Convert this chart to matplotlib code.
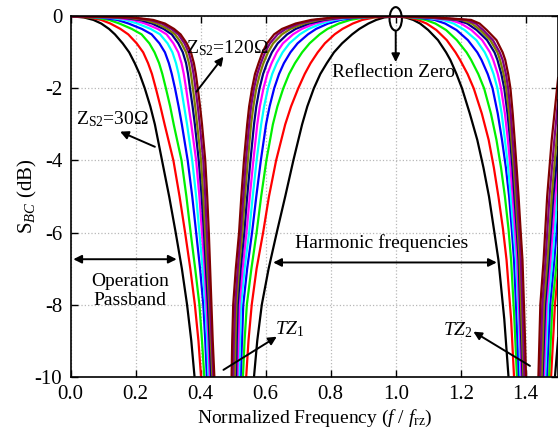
import matplotlib
matplotlib.use("Agg")
import matplotlib.pyplot as plt
from matplotlib.patches import Ellipse

plt.rcParams['font.family'] = 'Liberation Serif'
plt.rcParams['mathtext.fontset'] = 'custom'
plt.rcParams['mathtext.rm'] = 'Liberation Serif'
plt.rcParams['mathtext.it'] = 'Liberation Serif:italic'
plt.rcParams['mathtext.bf'] = 'Liberation Serif:bold'
plt.rcParams['axes.unicode_minus'] = False

# Z_S2 values (ohm) and colours, inner (black) to outer (maroon)
z_s2 = [30, 40, 50, 60, 70, 80, 90, 100, 110, 120]
colors = ['#000000', '#ff0000', '#00f000', '#0000ff', '#00ffff',
          '#ff00ff', '#000080', '#808000', '#800080', '#800000']

# Branch 1: falling edge from f=0 toward TZ1 (x read at common dB levels)
b1_levels = [0, -0.03, -0.1, -0.2, -0.35, -0.5, -0.75, -1.0, -1.3, -1.6,
             -2.0, -2.5, -3.0, -4, -5, -6, -7, -8, -9, -10]
b1_x = [
    [0, .040, .070, .094, .118, .136, .160, .180, .197, .212, .228, .245, .259, .281, .303, .323, .342, .358, .371, .381],
    [0, .055, .094, .122, .153, .177, .203, .223, .238, .250, .262, .276, .289, .316, .335, .352, .368, .382, .393, .401],
    [0, .070, .118, .150, .188, .218, .242, .258, .272, .282, .293, .306, .317, .341, .356, .369, .383, .396, .404, .411],
    [0, .090, .143, .178, .219, .249, .273, .290, .302, .311, .321, .332, .342, .360, .374, .386, .398, .408, .414, .419],
    [0, .110, .168, .205, .246, .275, .298, .313, .324, .332, .340, .349, .358, .374, .386, .396, .406, .414, .420, .424],
    [0, .130, .192, .229, .268, .295, .316, .331, .341, .348, .355, .363, .371, .386, .396, .404, .412, .418, .424, .428],
    [0, .150, .213, .250, .286, .311, .331, .345, .355, .361, .367, .375, .382, .394, .403, .410, .416, .422, .427, .432],
    [0, .165, .228, .265, .298, .321, .341, .355, .364, .370, .376, .383, .389, .401, .408, .414, .420, .426, .431, .436],
    [0, .180, .244, .280, .310, .331, .350, .363, .372, .378, .384, .391, .397, .408, .414, .419, .424, .429, .434, .439],
    [0, .190, .254, .290, .318, .338, .357, .370, .379, .385, .391, .398, .404, .414, .420, .425, .429, .433, .437, .442],
]

# Branch 2: rising edge from TZ1 to the reflection zero at f/frz = 1
b2_levels = [-10, -9, -8, -7, -6, -5, -4, -3, -2.5, -2, -1.6, -1.3, -1,
             -0.75, -0.5, -0.35, -0.2, -0.1, -0.03, 0]
b2_x = [
    [.564, .574, .588, .609, .634, .660, .685, .712, .728, .748, .768, .788, .810, .835, .866, .888, .916, .940, .965, 1.0],
    [.540, .547, .557, .572, .592, .610, .632, .660, .678, .700, .720, .738, .760, .782, .812, .836, .868, .897, .935, 1.0],
    [.530, .535, .542, .556, .572, .586, .602, .622, .636, .654, .672, .690, .712, .735, .766, .790, .825, .860, .905, 1.0],
    [.523, .527, .531, .543, .558, .571, .585, .601, .612, .626, .641, .656, .676, .698, .730, .755, .792, .830, .880, 1.0],
    [.518, .521, .524, .535, .549, .560, .572, .586, .595, .607, .620, .634, .652, .673, .705, .732, .772, .812, .865, 1.0],
    [.513, .516, .519, .529, .541, .551, .562, .574, .582, .593, .605, .618, .634, .653, .684, .711, .752, .795, .852, 1.0],
    [.509, .511, .514, .523, .534, .543, .553, .564, .571, .581, .592, .604, .619, .637, .666, .692, .734, .780, .840, 1.0],
    [.505, .507, .510, .518, .528, .536, .545, .555, .562, .571, .582, .593, .607, .623, .650, .676, .718, .765, .828, 1.0],
    [.500, .502, .506, .514, .523, .531, .539, .549, .555, .564, .574, .585, .598, .613, .637, .662, .704, .752, .818, 1.0],
    [.495, .497, .500, .508, .518, .525, .533, .543, .549, .558, .567, .578, .590, .604, .626, .650, .692, .740, .808, 1.0],
]

# Branch 3: falling edge from f/frz = 1 toward TZ2
b3_levels = [0, -0.03, -0.1, -0.2, -0.38, -0.66, -1.0, -1.21, -1.6, -2.0,
             -2.7, -3.43, -4.2, -5.0, -5.9, -6.76, -8.4, -10]
b3_x = [
    [1.0, 1.030, 1.054, 1.075, 1.100, 1.130, 1.155, 1.168, 1.187, 1.204, 1.228, 1.251, 1.270, 1.287, 1.302, 1.316, 1.334, 1.347],
    [1.0, 1.038, 1.068, 1.095, 1.125, 1.157, 1.184, 1.198, 1.221, 1.240, 1.265, 1.286, 1.302, 1.316, 1.330, 1.341, 1.355, 1.364],
    [1.0, 1.050, 1.092, 1.122, 1.155, 1.188, 1.218, 1.232, 1.254, 1.272, 1.293, 1.310, 1.324, 1.336, 1.347, 1.355, 1.365, 1.373],
    [1.0, 1.065, 1.120, 1.152, 1.187, 1.222, 1.251, 1.264, 1.283, 1.298, 1.314, 1.327, 1.339, 1.349, 1.357, 1.364, 1.372, 1.379],
    [1.0, 1.078, 1.145, 1.178, 1.212, 1.248, 1.274, 1.285, 1.301, 1.313, 1.326, 1.336, 1.346, 1.354, 1.362, 1.370, 1.378, 1.384],
    [1.0, 1.090, 1.168, 1.201, 1.233, 1.266, 1.290, 1.300, 1.314, 1.324, 1.336, 1.345, 1.353, 1.360, 1.367, 1.374, 1.381, 1.387],
    [1.0, 1.100, 1.188, 1.220, 1.249, 1.281, 1.304, 1.313, 1.325, 1.334, 1.344, 1.352, 1.359, 1.365, 1.372, 1.378, 1.384, 1.390],
    [1.0, 1.108, 1.203, 1.234, 1.260, 1.291, 1.313, 1.321, 1.332, 1.340, 1.349, 1.356, 1.363, 1.369, 1.375, 1.381, 1.387, 1.393],
    [1.0, 1.115, 1.218, 1.246, 1.269, 1.299, 1.320, 1.329, 1.339, 1.346, 1.354, 1.360, 1.367, 1.373, 1.379, 1.385, 1.391, 1.396],
    [1.0, 1.120, 1.232, 1.258, 1.280, 1.310, 1.329, 1.337, 1.346, 1.353, 1.360, 1.366, 1.372, 1.378, 1.384, 1.390, 1.396, 1.401],
]

# Branch 4: rising edge after TZ2 up to the right border (x, y per curve)
b4_x = [
    [1.490, 1.500],
    [1.478, 1.490, 1.500],
    [1.472, 1.482, 1.496, 1.500],
    [1.465, 1.475, 1.488, 1.500],
    [1.460, 1.469, 1.482, 1.497, 1.500],
    [1.456, 1.464, 1.476, 1.491, 1.500],
    [1.452, 1.460, 1.471, 1.485, 1.500],
    [1.449, 1.456, 1.467, 1.480, 1.495, 1.500],
    [1.444, 1.451, 1.461, 1.473, 1.488, 1.500],
    [1.439, 1.445, 1.455, 1.466, 1.480, 1.500],
]
b4_y = [
    [-10, -8.9],
    [-10, -8, -7.0],
    [-10, -8, -6.76, -6.4],
    [-10, -8, -6.76, -5.4],
    [-10, -8, -6.76, -5, -4.7],
    [-10, -8, -6.76, -5, -4.1],
    [-10, -8, -6.76, -5, -3.6],
    [-10, -8, -6.76, -5, -3.43, -3.0],
    [-10, -8, -6.76, -5, -3.43, -2.3],
    [-10, -8, -6.76, -5, -3.43, -1.68],
]

x_ticks = [0.0, 0.2, 0.4, 0.6, 0.8, 1.0, 1.2, 1.4]
y_ticks = [0, -2, -4, -6, -8, -10]

fig = plt.figure(figsize=(5.58, 4.34), dpi=100)
ax = fig.add_axes([0.1267, 0.132, 0.8737, 0.8304])

for i in range(len(z_s2)):
    c = colors[i]
    kw = dict(color=c, lw=1.6, solid_joinstyle='round', solid_capstyle='butt')
    ax.plot(b1_x[i], b1_levels, **kw)
    ax.plot(b2_x[i], b2_levels, **kw)
    ax.plot(b3_x[i], b3_levels, **kw)
    ax.plot(b4_x[i], b4_y[i], **kw)

ax.set_xlim(0, 1.5)
ax.set_ylim(-10, 0)
ax.set_xticks(x_ticks)
ax.set_xticklabels(['%.1f' % v for v in x_ticks])
ax.set_yticks(y_ticks)
ax.set_yticklabels(['%d' % v for v in y_ticks])
ax.grid(True, ls=':', color='#b8b8b8', lw=0.9)
ax.tick_params(direction='in', length=5, width=1, top=True, right=True,
               labelsize=15, pad=6)
for s in ax.spines.values():
    s.set_linewidth(1.2)

ax.set_xlabel('Normalized Frequency ($f$ / $f_{\\mathrm{rz}}$)', fontsize=14, labelpad=3)
ax.set_ylabel('S$_{BC}$ (dB)', fontsize=15, labelpad=-3)

arw = dict(arrowstyle='-|>', color='k', lw=1.4, mutation_scale=12, shrinkA=0, shrinkB=0)
darw = dict(arrowstyle='<|-|>', color='k', lw=1.4, mutation_scale=12, shrinkA=0, shrinkB=0)

fs = 14
ax.text(0.481, -0.88, 'Z$_{\\mathrm{S2}}$=120Ω', fontsize=fs, ha='center', va='center')
ax.annotate('', xy=(0.470, -1.12), xytext=(0.387, -2.09), arrowprops=arw)
ax.text(0.130, -2.85, 'Z$_{\\mathrm{S2}}$=30Ω', fontsize=fs, ha='center', va='center')
ax.annotate('', xy=(0.152, -3.20), xytext=(0.259, -3.62), arrowprops=arw)

ax.add_patch(Ellipse((1.0, -0.07), 0.038, 0.65, fill=False, lw=1.5,
                     edgecolor='k', clip_on=False))
ax.annotate('', xy=(1.0, -1.27), xytext=(1.0, -0.40), arrowprops=arw)
ax.text(0.992, -1.55, 'Reflection Zero', fontsize=fs, ha='center', va='center')

ax.annotate('', xy=(0.008, -6.74), xytext=(0.326, -6.74), arrowprops=darw)
ax.text(0.183, -7.62, 'Operation\nPassband', fontsize=fs, ha='center', va='center',
        linespacing=1.2)

ax.annotate('', xy=(0.623, -6.83), xytext=(1.311, -6.83), arrowprops=darw)
ax.text(0.958, -6.29, 'Harmonic frequencies', fontsize=fs, ha='center', va='center')

ax.text(0.675, -8.67, '$TZ_1$', fontsize=fs, ha='center', va='center')
ax.annotate('', xy=(0.634, -8.89), xytext=(0.470, -9.81), arrowprops=arw)
ax.text(1.190, -8.70, '$TZ_2$', fontsize=fs, ha='center', va='center')
ax.annotate('', xy=(1.239, -8.75), xytext=(1.413, -9.70), arrowprops=arw)

fig.savefig('out.png', dpi=100)
